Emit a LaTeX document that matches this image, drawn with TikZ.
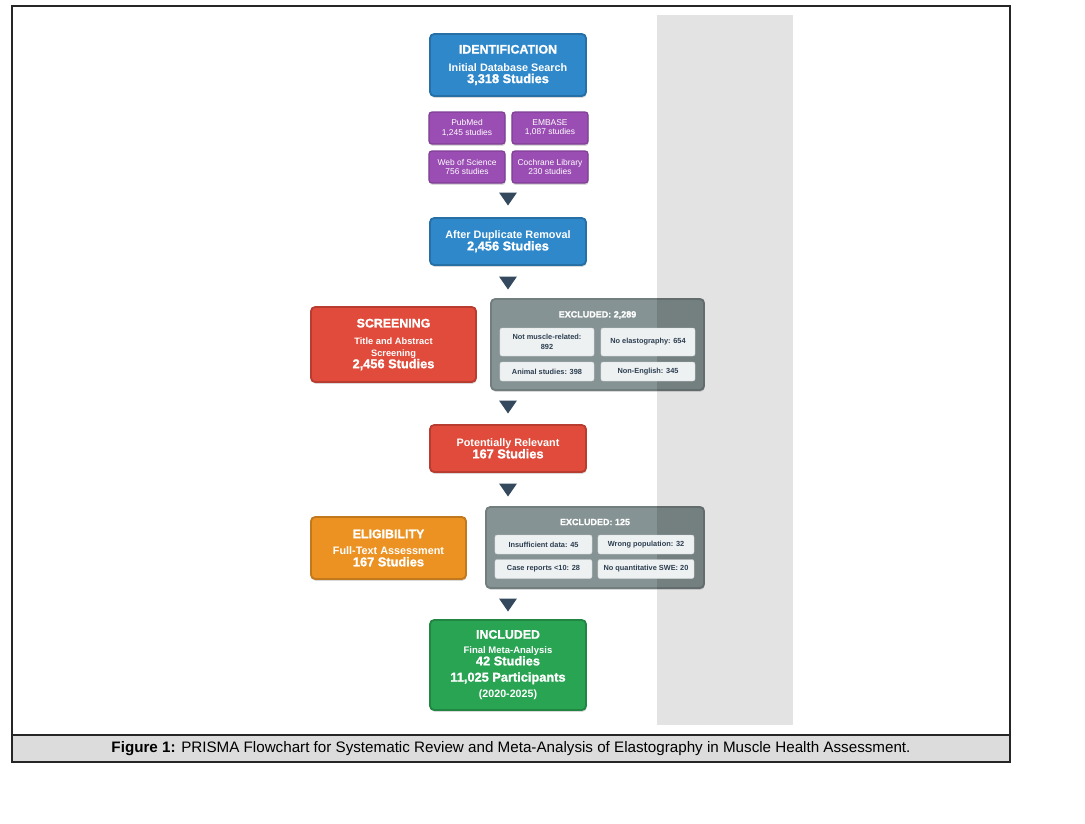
\documentclass[tikz,border=0pt]{standalone}
\usepackage{fontspec}
\setmainfont{Liberation Sans}
\newfontfamily\heavysans{Liberation Sans}[BoldFeatures={FakeBold=1.3}]
\usetikzlibrary{calc,shadows}
\definecolor{idblue}{HTML}{2E88CA}
\definecolor{dbpurple}{HTML}{9A4DB3}
\definecolor{scrred}{HTML}{E04B3B}
\definecolor{eligorange}{HTML}{EC9222}
\definecolor{incgreen}{HTML}{29A452}
\definecolor{exclgray}{HTML}{869394}
\definecolor{reasonbg}{HTML}{EEF1F2}
\definecolor{reasontext}{HTML}{2C3E50}
\definecolor{tipslate}{HTML}{34495E}
\definecolor{colgray}{HTML}{E3E3E3}
\definecolor{capgray}{HTML}{DCDCDC}
\def\flowtip(#1,#2){\fill[tipslate] (#1-9,#2-6.5) -- (#1+9,#2-6.5) -- (#1,#2+6.5) -- cycle;}
\def\stagehead{\heavysans\bfseries\fontsize{8.8}{8.5}\selectfont}
\def\stageline{\fontsize{7.7}{8.5}\selectfont}
\def\stagecount{\heavysans\bfseries\fontsize{9.1}{8.5}\selectfont}
\tikzset{
  stagebox/.style={rectangle, rounded corners=3pt, draw=#1!82!black, line width=1.3pt, fill=#1,
    text=white, font=\bfseries\fontsize{7.7}{8.5}\selectfont, align=center, inner sep=0pt,
    drop shadow={shadow xshift=0.4pt, shadow yshift=-1.3pt, opacity=0.3}},
  dbbox/.style={stagebox=dbpurple, line width=0.8pt, rounded corners=2pt,
    font=\fontsize{6}{6.5}\selectfont, minimum width=1.9cm, minimum height=0.8cm},
  exclbox/.style={rectangle, rounded corners=3pt, draw=exclgray!85!black, line width=1.3pt, fill=exclgray,
    inner sep=0pt, drop shadow={shadow xshift=0.4pt, shadow yshift=-1.3pt, opacity=0.3}},
  exclhead/.style={text=white, font=\heavysans\bfseries\fontsize{6.4}{7}\selectfont},
  reasonbox/.style={rectangle, rounded corners=1.5pt, fill=reasonbg, draw=reasonbg!88!black, line width=0.3pt,
    text=reasontext, font=\bfseries\fontsize{5.25}{7}\selectfont, align=center, inner sep=0pt}
}
\begin{document}
\begin{tikzpicture}[x=0.025cm,y=-0.025cm]
		%%%%% START %%%%%
		\useasboundingbox (0,0) rectangle (1085,823);
		
		\fill[colgray] (657,15) rectangle (793,725);
		
		% identification
		\node[stagebox=idblue, minimum width=3.9cm, minimum height=1.55cm] (ident) at (508,65)
			{{\stagehead IDENTIFICATION}\\[4pt]{\stageline Initial Database Search}\\{\stagecount 3,318 Studies}};
		\node[dbbox] (pubmed) at (467,128) {PubMed\\1,245 studies};
		\node[dbbox] (embase) at (550,128) {EMBASE\\1,087 studies};
		\node[dbbox] (wos) at (467,167) {Web of Science\\756 studies};
		\node[dbbox] (cochrane) at (550,167) {Cochrane Library\\230 studies};
		
		\flowtip(508,199)
		
		\node[stagebox=idblue, minimum width=3.9cm, minimum height=1.175cm] (afterdup) at (508,241.5)
			{{\stageline After Duplicate Removal}\\{\stagecount 2,456 Studies}};
		
		\flowtip(508,283)
		
		% screening
		\node[stagebox=scrred, minimum width=4.125cm, minimum height=1.875cm] (screen) at (393.5,344.5)
			{{\stagehead SCREENING}\\[3.5pt]{\fontsize{6.6}{8.5}\selectfont Title and Abstract}\\{\fontsize{6.6}{8.5}\selectfont Screening}\\{\stagecount 2,456 Studies}};
		\node[exclbox, minimum width=5.325cm, minimum height=2.275cm] (exclA) at (597.5,344.5) {};
		
		\flowtip(508,407)
		
		\node[stagebox=scrred, minimum width=3.9cm, minimum height=1.175cm] (potrel) at (508,448.5)
			{{\stageline Potentially Relevant}\\{\stagecount 167 Studies}};
		
		\flowtip(508,490)
		
		% eligibility
		\node[stagebox=eligorange, minimum width=3.875cm, minimum height=1.55cm] (elig) at (388.5,548)
			{{\stagehead ELIGIBILITY}\\[3pt]{\stageline Full-Text Assessment}\\{\stagecount 167 Studies}};
		\node[exclbox, minimum width=5.45cm, minimum height=2.025cm] (exclB) at (595,547.5) {};
		
		\flowtip(508,605)
		
		% included
		\node[stagebox=incgreen, minimum width=3.9cm, minimum height=2.25cm] (incl) at (508,665)
			{{\stagehead INCLUDED}\\[2pt]{\fontsize{6.75}{8.5}\selectfont Final Meta-Analysis}\\{\stagecount 42 Studies}\\[3pt]{\stagecount 11,025 Participants}\\[3pt]{\fontsize{7.6}{8.5}\selectfont (2020-2025)}};
		
		% excluded boxes are darker where they lie on the column
		\begin{scope}
			\clip (657,15) rectangle (793,725);
			\fill[black, opacity=0.13, rounded corners=3pt] (exclA.south west) rectangle (exclA.north east);
			\fill[black, opacity=0.13, rounded corners=3pt] (exclB.south west) rectangle (exclB.north east);
		\end{scope}
		
		\node[exclhead] (exclAhead) at (597.5,315) {EXCLUDED: 2,289};
		\node[reasonbox, minimum width=2.35cm, minimum height=0.7cm] (nomuscle) at (547,342) {Not muscle-related:\\892};
		\node[reasonbox, minimum width=2.35cm, minimum height=0.7cm] (noelasto) at (648,342) {No elastography: 654};
		\node[reasonbox, minimum width=2.35cm, minimum height=0.475cm] (animal) at (547,371.5) {Animal studies: 398};
		\node[reasonbox, minimum width=2.35cm, minimum height=0.475cm] (nonengl) at (648,371.5) {Non-English: 345};
		
		\node[exclhead] (exclBhead) at (595,522) {EXCLUDED: 125};
		\node[reasonbox, minimum width=2.425cm, minimum height=0.475cm] (insuff) at (543.5,544.5) {Insufficient data: 45};
		\node[reasonbox, minimum width=2.4cm, minimum height=0.475cm] (wrongpop) at (646,544.5) {Wrong population: 32};
		\node[reasonbox, minimum width=2.425cm, minimum height=0.475cm] (casereps) at (543.5,569) {Case reports <10: 28};
		\node[reasonbox, minimum width=2.4cm, minimum height=0.475cm] (noquant) at (646,569) {No quantitative SWE: 20};
		
		% caption
		\fill[capgray] (12,735) rectangle (1010,762);
		\draw[line width=0.8pt, color=black!85] (12,6) rectangle (1010,762);
		\draw[line width=0.8pt, color=black!85] (12,735) -- (1010,735);
		\node[font=\fontsize{10.8}{13}\selectfont] (caption) at (511,748.5)
			{\textbf{Figure 1:} PRISMA Flowchart for Systematic Review and Meta-Analysis of Elastography in Muscle Health Assessment.};
		
		%%%%% END %%%%%
\end{tikzpicture}
\end{document}
